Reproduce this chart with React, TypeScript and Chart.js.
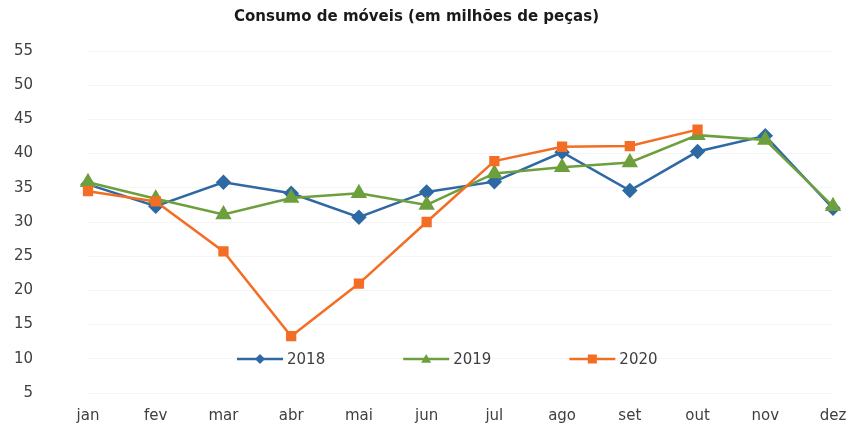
import React, { useEffect, useRef } from "react";
import { Chart, registerables } from "chart.js";

Chart.register(...registerables);

const title = "Consumo de móveis (em milhões de peças)";
const months = ["jan", "fev", "mar", "abr", "mai", "jun", "jul", "ago", "set", "out", "nov", "dez"];
const series2018 = [35.5, 32.3, 35.8, 34.2, 30.7, 34.4, 35.9, 40.2, 34.6, 40.3, 42.6, 32.0];
const series2019 = [35.8, 33.4, 31.1, 33.5, 34.2, 32.5, 37.1, 38.0, 38.7, 42.7, 42.0, 32.3];
const series2020 = [34.5, 33.0, 25.7, 13.3, 21.0, 30.0, 38.9, 41.0, 41.1, 43.5, null, null];
const yTicks = { min: 5, max: 55, step: 5 };

const BLUE = "#2F69A3";
const GREEN = "#6E9F3D";
const ORANGE = "#F36E24";
const FONT = "'DejaVu Sans', sans-serif";
const TEXT = "#404040";

function drawMarker(ctx: CanvasRenderingContext2D, style: string, x: number, y: number, r: number, color: string) {
  ctx.save();
  ctx.fillStyle = color;
  ctx.beginPath();
  if (style === "rectRot") {
    ctx.moveTo(x, y - r);
    ctx.lineTo(x + r, y);
    ctx.lineTo(x, y + r);
    ctx.lineTo(x - r, y);
  } else if (style === "triangle") {
    ctx.moveTo(x, y - r);
    ctx.lineTo(x + r, y + r * 0.75);
    ctx.lineTo(x - r, y + r * 0.75);
  } else {
    ctx.rect(x - r, y - r, 2 * r, 2 * r);
  }
  ctx.closePath();
  ctx.fill();
  ctx.restore();
}

const insideLegend = {
  id: "insideLegend",
  afterDraw(chart: any) {
    const ctx = chart.ctx as CanvasRenderingContext2D;
    const area = chart.chartArea;
    const y = area.bottom - 34;
    let x = area.left + 149;
    ctx.save();
    ctx.font = `15px ${FONT}`;
    ctx.textBaseline = "middle";
    ctx.textAlign = "left";
    chart.data.datasets.forEach((ds: any) => {
      ctx.strokeStyle = ds.borderColor;
      ctx.lineWidth = 2.5;
      ctx.beginPath();
      ctx.moveTo(x, y);
      ctx.lineTo(x + 46, y);
      ctx.stroke();
      drawMarker(ctx, ds.pointStyle, x + 23, y, ds.pointStyle === "rect" ? 4.5 : 5, ds.borderColor);
      ctx.fillStyle = TEXT;
      ctx.fillText(ds.label, x + 50, y + 1);
      const w = ctx.measureText(ds.label).width;
      x += 50 + w + 78;
    });
    ctx.restore();
  },
};

export default function App() {
  const ref = useRef<HTMLCanvasElement>(null);
  useEffect(() => {
    if (!ref.current) return;
    const chart = new Chart(ref.current, {
      type: "line",
      data: {
        labels: months,
        datasets: [
          {
            label: "2018",
            data: series2018,
            borderColor: BLUE,
            backgroundColor: BLUE,
            pointStyle: "rectRot",
            pointRadius: 6,
            borderWidth: 2.5,
            order: 3,
          },
          {
            label: "2019",
            data: series2019,
            borderColor: GREEN,
            backgroundColor: GREEN,
            pointStyle: "triangle",
            pointRadius: 7,
            borderWidth: 2.5,
            order: 2,
          },
          {
            label: "2020",
            data: series2020,
            borderColor: ORANGE,
            backgroundColor: ORANGE,
            pointStyle: "rect",
            pointRadius: 5.5,
            borderWidth: 2.5,
            order: 1,
          },
        ],
      },
      options: {
        animation: false,
        responsive: true,
        maintainAspectRatio: false,
        layout: { autoPadding: false, padding: { left: 0, right: 22, top: 0, bottom: 3 } },
        plugins: {
          legend: { display: false },
          tooltip: { enabled: false },
          title: {
            display: true,
            text: title,
            color: "#1a1a1a",
            font: { family: FONT, size: 15, weight: "bold" },
            padding: { top: 8, bottom: 25 },
          },
        },
        scales: {
          x: {
            offset: false,
            grid: { display: false, drawTicks: false },
            border: { display: false },
            ticks: { color: TEXT, font: { family: FONT, size: 15 }, padding: 14, maxRotation: 0, autoSkip: false },
            afterFit: (s: any) => {
              s.height = 32;
              s.paddingLeft = 0;
              s.paddingRight = 0;
            },
          },
          y: {
            min: yTicks.min,
            max: yTicks.max,
            grid: { color: "rgba(0,0,0,0.04)", drawTicks: false },
            border: { display: false },
            ticks: { stepSize: yTicks.step, color: TEXT, font: { family: FONT, size: 15 }, padding: 55 },
            afterFit: (s: any) => {
              s.width = 88;
              s.paddingTop = 0;
              s.paddingBottom = 0;
            },
          },
        },
      },
      plugins: [insideLegend],
    });
    return () => chart.destroy();
  }, []);
  return (
    <div style={{ position: "fixed", left: 0, top: 0, width: 855, height: 428, background: "#fff" }}>
      <canvas ref={ref} />
    </div>
  );
}
